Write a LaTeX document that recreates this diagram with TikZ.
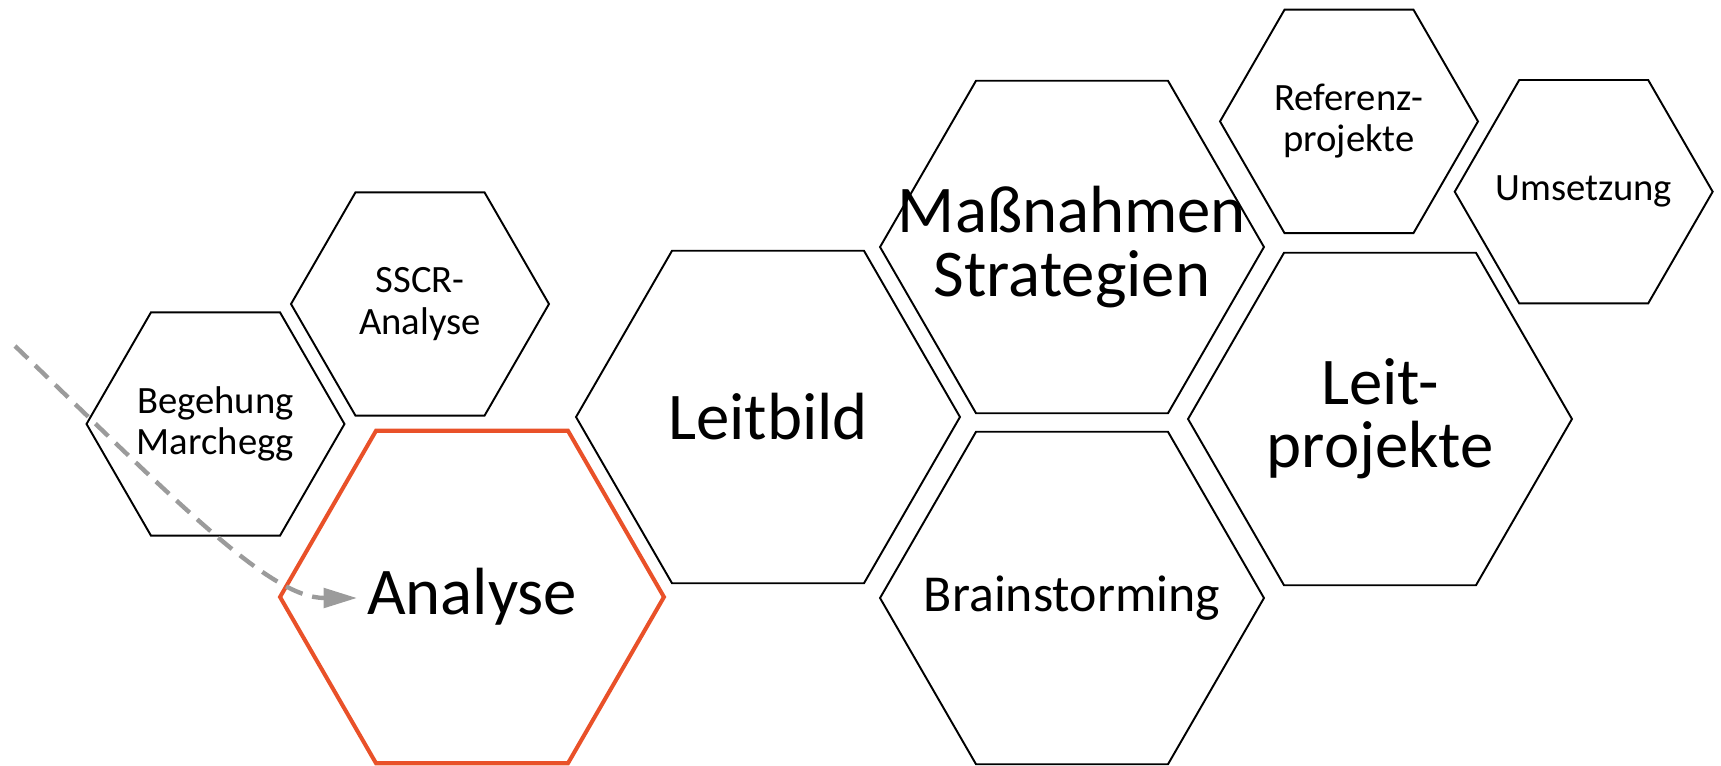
\documentclass[tikz,border=0pt]{standalone}
\usepackage{fontspec}
\setmainfont{Carlito}
\usetikzlibrary{shapes.geometric, arrows.meta}
\definecolor{hexred}{RGB}{233,81,41}
\definecolor{flowgray}{RGB}{155,155,155}
\tikzstyle{smallhex} = [regular polygon, regular polygon sides=6, minimum size=5.16cm, inner sep=0pt, draw=black, line width=1.1pt]
\tikzstyle{bighex} = [regular polygon, regular polygon sides=6, minimum size=7.68cm, inner sep=0pt, draw=black, line width=1.1pt]
\tikzstyle{current} = [draw=hexred, line width=2.3pt]
\tikzstyle{smalltext} = [align=center, font=\fontsize{22}{23.5}\selectfont]
\tikzstyle{midtext} = [align=center, font=\fontsize{29.5}{33}\selectfont]
\tikzstyle{bigtext} = [align=center, font=\fontsize{38}{36}\selectfont]
\tikzstyle{flow} = [flowgray, line width=2.5pt, dash pattern=on 10.2pt off 5.7pt, -{Triangle[length=19pt, width=11pt]}]

\begin{document}
\begin{tikzpicture}[x=0.02cm, y=-0.02cm]
\useasboundingbox (0,0) rectangle (1721,765);

% left group
\node (0) [smallhex, label={[smalltext]center:Begehung\\Marchegg}] at (215.5,424) {};
\node (1) [smallhex, label={[smalltext]center:SSCR-\\Analyse}] at (420,304) {};
\node (2) [bighex, current, label={[bigtext]center:Analyse}] at (472,597) {};

% middle
\node (3) [bighex, label={[bigtext]center:Leitbild}] at (768,417) {};
\node (4) [bighex, label={[bigtext]center:Maßnahmen\\Strategien}] at (1072,247) {};
\node (5) [bighex, label={[midtext]center:Brainstorming}] at (1072,598) {};

% right group
\node (6) [smallhex, label={[smalltext]center:Referenz-\\projekte}] at (1349,121.4) {};
\node (7) [bighex, label={[bigtext]center:Leit-\\projekte}] at (1380,419) {};
\node (8) [smallhex, label={[smalltext]center:Umsetzung}] at (1583.7,191.7) {};

% way in
\coordinate (in) at (15,346);
\coordinate (out) at (357,598);
\draw [flow] (in) .. controls (180,505) and (270,598) .. (out);

\end{tikzpicture}
\end{document}
